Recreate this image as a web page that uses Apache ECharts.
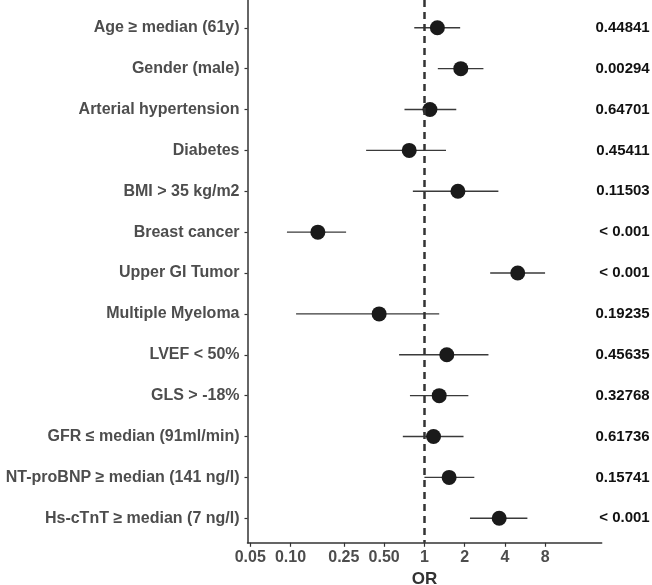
<!DOCTYPE html>
<html>
<head>
<meta charset="utf-8">
<script src="https://cdn.jsdelivr.net/npm/echarts@6/dist/echarts.min.js"></script>
<style>html,body{margin:0;padding:0;background:#fff}#c{width:652px;height:585px}</style>
</head>
<body>
<div id="c"></div>
<script>
var categories = ["Age \u2265 median (61y)", "Gender (male)", "Arterial hypertension", "Diabetes", "BMI > 35 kg/m2", "Breast cancer", "Upper GI Tumor", "Multiple Myeloma", "LVEF < 50%", "GLS > -18%", "GFR \u2264 median (91ml/min)", "NT-proBNP \u2265 median (141 ng/l)", "Hs-cTnT \u2265 median (7 ng/l)"];
var orValues = [1.25, 1.87, 1.10, 0.77, 1.78, 0.16, 4.98, 0.459, 1.47, 1.29, 1.17, 1.53, 3.62];
var ciLow = [0.84, 1.26, 0.71, 0.367, 0.82, 0.094, 3.10, 0.110, 0.647, 0.78, 0.69, 1.00, 2.19];
var ciHigh = [1.85, 2.76, 1.73, 1.45, 3.57, 0.26, 7.97, 1.29, 3.01, 2.13, 1.96, 2.36, 5.88];
var pValues = ["0.44841", "0.00294", "0.64701", "0.45411", "0.11503", "< 0.001", "< 0.001", "0.19235", "0.45635", "0.32768", "0.61736", "0.15741", "< 0.001"];
var xTickValues = [0.05, 0.10, 0.25, 0.50, 1, 2, 4, 8];
var xTickLabels = ["0.05", "0.10", "0.25", "0.50", "1", "2", "4", "8"];

var L2 = function (v) { return Math.log(v) / Math.LN2; };
var rows = categories.map(function (c, i) { return i + 1; });
var pointData = orValues.map(function (v, i) { return [L2(v), i + 1]; });
var ciData = ciLow.map(function (lo, i) { return [L2(lo), L2(ciHigh[i]), i + 1]; });
var xTicks = xTickValues.map(L2);
function nearestIdx(arr, v) { var b = 0; for (var i = 1; i < arr.length; i++) if (Math.abs(arr[i] - v) < Math.abs(arr[b] - v)) b = i; return b; }

var font = "'Liberation Sans', Arial, Helvetica, sans-serif";
var chart = echarts.init(document.getElementById('c'), null, { renderer: 'canvas' });
chart.setOption({
  animation: false,
  backgroundColor: '#ffffff',
  grid: { left: 247.5, right: 50.3, top: 0, bottom: 42.2, containLabel: false, outerBoundsMode: 'none' },
  xAxis: {
    type: 'value', min: -4.39, max: 4.40,
    splitLine: { show: false },
    axisLine: { show: true, onZero: false, lineStyle: { color: '#333333', width: 1.5 } },
    axisTick: { show: true, customValues: xTicks, length: 4, lineStyle: { color: '#333333', width: 1.2 } },
    axisLabel: {
      customValues: xTicks, margin: 7, fontFamily: font, fontSize: 16, fontWeight: 'bold', color: '#4d4d4d',
      formatter: function (v) { return xTickLabels[nearestIdx(xTicks, v)]; }
    },
    name: 'OR', nameLocation: 'middle', nameGap: 26,
    nameTextStyle: { fontFamily: font, fontSize: 17, fontWeight: 'bold', color: '#333333' }
  },
  yAxis: [{
    type: 'value', min: 0.32, max: 13.6, inverse: true,
    splitLine: { show: false },
    axisLine: { show: true, onZero: false, lineStyle: { color: '#333333', width: 1.5 } },
    axisTick: { show: true, customValues: rows, length: 3, lineStyle: { color: '#333333', width: 1.2 } },
    axisLabel: {
      customValues: rows, margin: 8, fontFamily: font, fontSize: 16, fontWeight: 'bold', color: '#4d4d4d',
      formatter: function (v) { return categories[Math.round(v) - 1]; }
    }
  }, {
    type: 'value', min: 0.32, max: 13.6, inverse: true, position: 'right',
    splitLine: { show: false },
    axisLine: { show: false, onZero: false }, axisTick: { show: false },
    axisLabel: {
      customValues: rows, margin: 48, align: 'right', fontFamily: font, fontSize: 15, fontWeight: 'bold', color: '#111111',
      formatter: function (v) { return pValues[Math.round(v) - 1]; }
    }
  }],
  series: [{
    type: 'custom',
    data: ciData,
    encode: { x: [0, 1], y: 2 },
    renderItem: function (params, api) {
      var a = api.coord([api.value(0), api.value(2)]);
      var b = api.coord([api.value(1), api.value(2)]);
      return { type: 'line', shape: { x1: a[0], y1: a[1], x2: b[0], y2: b[1] }, style: { stroke: '#3a3a3a', lineWidth: 1.4 } };
    },
    z: 2
  }, {
    type: 'scatter',
    data: pointData,
    symbol: 'circle', symbolSize: 15,
    itemStyle: { color: '#1a1a1a', opacity: 1 },
    z: 3,
    markLine: {
      silent: true, symbol: 'none', label: { show: false },
      lineStyle: { type: [7, 5], color: '#333333', width: 2.5 },
      data: [{ xAxis: 0 }]
    }
  }]
});
</script>
</body>
</html>
